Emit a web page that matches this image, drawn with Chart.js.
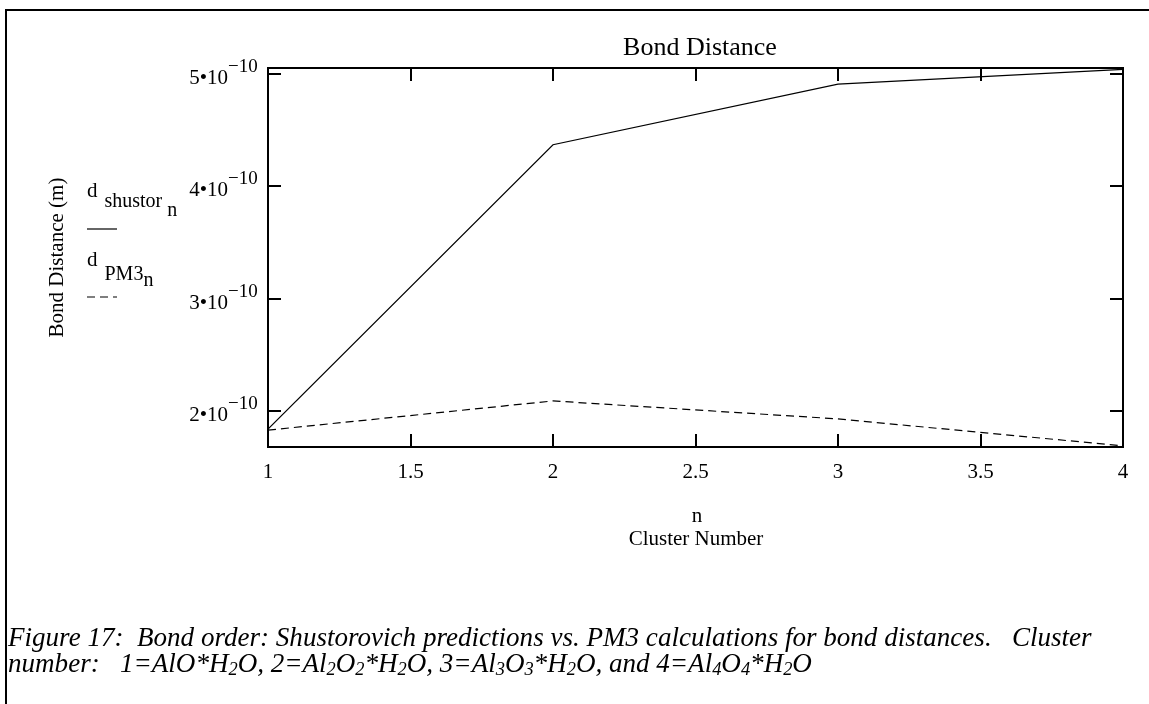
<!DOCTYPE html>
<html>
<head>
<meta charset="utf-8">
<script src="https://cdn.jsdelivr.net/npm/chart.js@4.4.1/dist/chart.umd.min.js"></script>
<style>
  html, body { margin: 0; padding: 0; background: #fff; }
  #wrap { width: 1149px; height: 704px; position: relative; }
</style>
</head>
<body>
<div id="wrap"><canvas id="bondChart" width="1149" height="704"></canvas></div>
<script>
// cluster number n and bond distances (m)
const clusterN = [1, 2, 3, 4];
const dShustor = [1.84e-10, 4.37e-10, 4.91e-10, 5.04e-10];
const dPM3 = [1.83e-10, 2.09e-10, 1.93e-10, 1.69e-10];

const xTicks = [1, 1.5, 2, 2.5, 3, 3.5, 4];
const xTickLabels = ['1', '1.5', '2', '2.5', '3', '3.5', '4'];
const yTicks = [2e-10, 3e-10, 4e-10, 5e-10];
const yTickLabels = [['2•10', '\u221210'], ['3•10', '\u221210'], ['4•10', '\u221210'], ['5•10', '\u221210']];

const SERIF = '"Liberation Serif", "DejaVu Serif", serif';

// draw a run of text pieces, each with its own baseline shift / size
function drawRuns(ctx, x, y, runs) {
  let cx = x;
  runs.forEach(r => {
    ctx.font = (r.italic ? 'italic ' : '') + r.size + 'px ' + SERIF;
    ctx.fillText(r.t, cx, y + (r.dy || 0));
    cx += ctx.measureText(r.t).width + (r.gap || 0);
  });
  return cx - x;
}

const frame = {
  id: 'frame',
  afterDraw(chart) {
    const ctx = chart.ctx;
    const a = chart.chartArea;
    const xs = chart.scales.x, ys = chart.scales.y;
    ctx.save();
    ctx.fillStyle = '#000';
    ctx.strokeStyle = '#000';

    // outer figure border (left + top)
    ctx.lineWidth = 2;
    ctx.beginPath();
    ctx.moveTo(6, 704); ctx.lineTo(6, 10); ctx.lineTo(1149, 10);
    ctx.stroke();

    // plot box
    ctx.strokeRect(a.left, a.top, a.right - a.left, a.bottom - a.top);

    // inward ticks on all four sides
    const tl = 13;
    ctx.beginPath();
    xTicks.forEach(v => {
      const px = Math.round(xs.getPixelForValue(v));
      if (v === xs.min || v === xs.max) return;
      ctx.moveTo(px, a.bottom); ctx.lineTo(px, a.bottom - tl);
      ctx.moveTo(px, a.top); ctx.lineTo(px, a.top + tl);
    });
    yTicks.forEach(v => {
      const py = Math.round(ys.getPixelForValue(v));
      ctx.moveTo(a.left, py); ctx.lineTo(a.left + tl, py);
      ctx.moveTo(a.right, py); ctx.lineTo(a.right - tl, py);
    });
    ctx.stroke();

    // x tick labels
    ctx.font = '21px ' + SERIF;
    ctx.textAlign = 'center';
    ctx.textBaseline = 'alphabetic';
    xTicks.forEach((v, i) => {
      ctx.fillText(xTickLabels[i], xs.getPixelForValue(v), 478);
    });

    // y tick labels with superscript exponent
    yTicks.forEach((v, i) => {
      const py = ys.getPixelForValue(v);
      ctx.font = '21px ' + SERIF;
      ctx.textAlign = 'right';
      ctx.fillText(yTickLabels[i][0], 228, py + 10);
      ctx.font = '19px ' + SERIF;
      ctx.textAlign = 'left';
      ctx.fillText(yTickLabels[i][1], 228, py - 2);
    });

    // title
    ctx.textAlign = 'center';
    ctx.font = '26px ' + SERIF;
    ctx.fillText('Bond Distance', 700, 55);

    // x axis titles
    ctx.font = '21px ' + SERIF;
    ctx.fillText('n', 697, 522);
    ctx.fillText('Cluster Number', 696, 545);

    // y axis title
    ctx.save();
    ctx.translate(57, (a.top + a.bottom) / 2);
    ctx.rotate(-Math.PI / 2);
    ctx.textBaseline = 'middle';
    ctx.font = '21px ' + SERIF;
    ctx.fillText('Bond Distance (m)', 0, 0);
    ctx.restore();

    // legend (Mathcad style trace names)
    ctx.textAlign = 'left';
    const ds = chart.data.datasets;
    drawRuns(ctx, 87, 197, [
      { t: 'd', size: 21, gap: 7 },
      { t: ds[0].label, size: 20, dy: 10, gap: 5 },
      { t: 'n', size: 20, dy: 19 }
    ]);
    drawRuns(ctx, 87, 266, [
      { t: 'd', size: 21, gap: 7 },
      { t: ds[1].label, size: 20, dy: 14 },
      { t: 'n', size: 20, dy: 20 }
    ]);
    ctx.lineWidth = 1.2;
    ctx.beginPath();
    ctx.moveTo(87, 229); ctx.lineTo(117, 229);
    ctx.stroke();
    ctx.setLineDash(ds[1].borderDash);
    ctx.beginPath();
    ctx.moveTo(87, 297); ctx.lineTo(117, 297);
    ctx.stroke();
    ctx.setLineDash([]);

    // caption
    const line1 = 'Figure 17:  Bond order: Shustorovich predictions vs. PM3 calculations for bond distances.   Cluster';
    ctx.font = 'italic 22px ' + SERIF;
    const fs = 22 * 1084 / ctx.measureText(line1).width;
    const sub = fs * 0.68;
    ctx.font = 'italic ' + fs + 'px ' + SERIF;
    ctx.fillText(line1, 8, 646);
    drawRuns(ctx, 8, 672, [
      { t: 'number:   1=AlO*H', size: fs, italic: true },
      { t: '2', size: sub, italic: true, dy: 3 },
      { t: 'O, 2=Al', size: fs, italic: true },
      { t: '2', size: sub, italic: true, dy: 3 },
      { t: 'O', size: fs, italic: true },
      { t: '2', size: sub, italic: true, dy: 3 },
      { t: '*H', size: fs, italic: true },
      { t: '2', size: sub, italic: true, dy: 3 },
      { t: 'O, 3=Al', size: fs, italic: true },
      { t: '3', size: sub, italic: true, dy: 3 },
      { t: 'O', size: fs, italic: true },
      { t: '3', size: sub, italic: true, dy: 3 },
      { t: '*H', size: fs, italic: true },
      { t: '2', size: sub, italic: true, dy: 3 },
      { t: 'O, and 4=Al', size: fs, italic: true },
      { t: '4', size: sub, italic: true, dy: 3 },
      { t: 'O', size: fs, italic: true },
      { t: '4', size: sub, italic: true, dy: 3 },
      { t: '*H', size: fs, italic: true },
      { t: '2', size: sub, italic: true, dy: 3 },
      { t: 'O', size: fs, italic: true }
    ]);
    ctx.restore();
  }
};

new Chart(document.getElementById('bondChart'), {
  type: 'line',
  data: {
    datasets: [
      {
        label: 'shustor',
        data: clusterN.map((n, i) => ({ x: n, y: dShustor[i] })),
        borderColor: '#000', borderWidth: 1.2, pointRadius: 0, tension: 0
      },
      {
        label: 'PM3',
        data: clusterN.map((n, i) => ({ x: n, y: dPM3[i] })),
        borderColor: '#000', borderWidth: 1.2, borderDash: [8, 5], pointRadius: 0, tension: 0
      }
    ]
  },
  options: {
    responsive: false,
    animation: false,
    layout: { padding: { left: 268, top: 68, right: 26, bottom: 257 } },
    plugins: { legend: { display: false }, tooltip: { enabled: false }, title: { display: false } },
    scales: {
      x: { type: 'linear', min: 1, max: 4, display: false },
      y: { type: 'linear', min: 1.68e-10, max: 5.053e-10, display: false }
    }
  },
  plugins: [frame]
});
</script>
</body>
</html>
